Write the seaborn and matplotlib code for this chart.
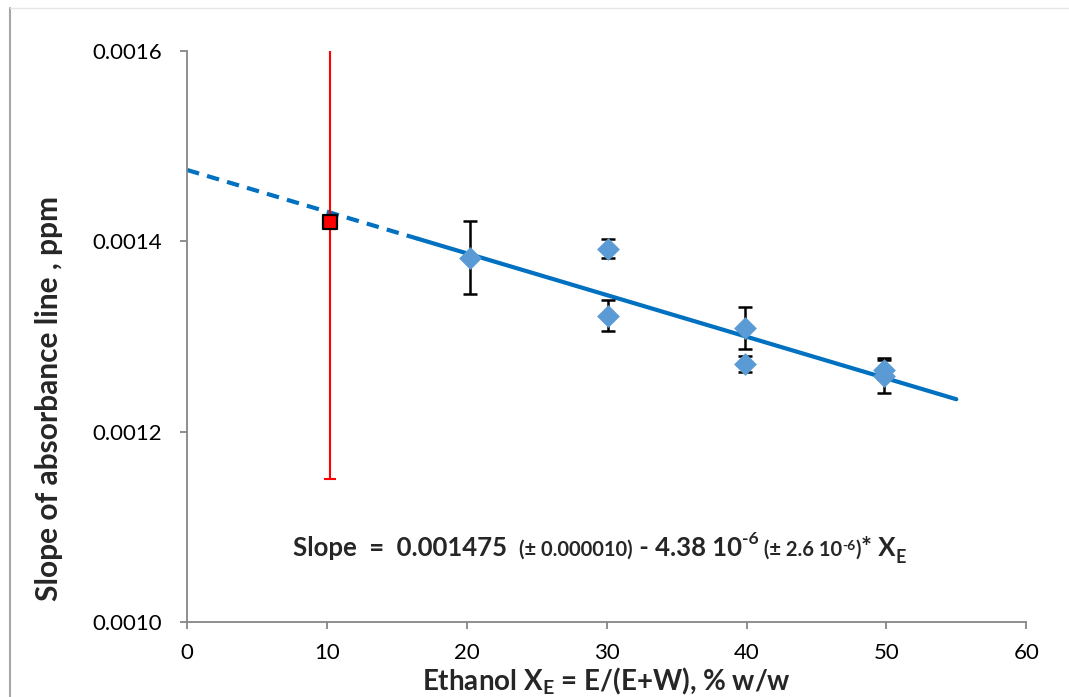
import matplotlib
matplotlib.use("Agg")
import matplotlib.pyplot as plt
from matplotlib.lines import Line2D
import numpy as np
import pandas as pd
import seaborn as sns

# ---- data ----
x_main = [20.2, 30.1, 30.1, 39.9, 39.9, 49.8, 49.8]
y_main = [0.001383, 0.001392, 0.001322, 0.001309, 0.001271, 0.001265, 0.001259]
err_main = [0.000038, 0.000010, 0.000016, 0.000022, 0.000008, 0.000010, 0.000018]

x_red = [10.2]
y_red = [0.001420]
err_red = [0.000270]

intercept = 0.001475
slope = -4.38e-6
fit_dash_x = [0.0, 16.5]
fit_solid_x = [16.5, 55.0]

x_ticks = [0, 10, 20, 30, 40, 50, 60]
y_ticks = [0.0010, 0.0012, 0.0014, 0.0016]
y_tick_labels = ["0.0010", "0.0012", "0.0014", "0.0016"]

sns.set_theme(style="white")
FONT = "Lato"
plt.rcParams["font.family"] = [FONT, "DejaVu Sans"]
plt.rcParams["mathtext.fontset"] = "custom"
plt.rcParams["mathtext.rm"] = FONT
plt.rcParams["mathtext.bf"] = FONT + ":bold"

fig = plt.figure(figsize=(10.69, 6.97), dpi=100)
ax = fig.add_axes([0.175, 0.1076, 0.785, 0.8192])

line_col = "#0070C0"
df_d = pd.DataFrame({"x": fit_dash_x, "y": [intercept + slope * v for v in fit_dash_x]})
df_s = pd.DataFrame({"x": fit_solid_x, "y": [intercept + slope * v for v in fit_solid_x]})
sns.lineplot(data=df_d, x="x", y="y", ax=ax, color=line_col, lw=3, ls=(0, (3, 2)), zorder=2)
sns.lineplot(data=df_s, x="x", y="y", ax=ax, color=line_col, lw=3, zorder=2)

ax.errorbar(x_main, y_main, yerr=err_main, fmt="none", ecolor="black",
            elinewidth=1.8, capsize=5, capthick=1.8, zorder=3)
ax.errorbar(x_red, y_red, yerr=err_red, fmt="none", ecolor="#FF0000",
            elinewidth=1.5, capsize=4.5, capthick=1.5, zorder=3)

sns.scatterplot(x=x_main, y=y_main, ax=ax, marker="D", s=135, color="#5B9BD5",
                edgecolor="#5B9BD5", linewidth=0, zorder=4)
sns.scatterplot(x=x_red, y=y_red, ax=ax, marker="s", s=110, color="#FF0000",
                edgecolor="black", linewidth=1.6, zorder=5)

ax.set_xlim(0, 60)
ax.set_ylim(0.0010, 0.0016)
ax.set_xticks(x_ticks)
ax.set_xticklabels([str(v) for v in x_ticks])
ax.set_yticks(y_ticks)
ax.set_yticklabels(y_tick_labels)

for s in ["top", "right"]:
    ax.spines[s].set_visible(False)
for s in ["left", "bottom"]:
    ax.spines[s].set_color("#868686")
    ax.spines[s].set_linewidth(1.3)
ax.tick_params(axis="both", which="major", direction="out", length=5, width=1.3,
               color="#868686", labelsize=16, labelcolor="black",
               left=True, bottom=True)
ax.tick_params(axis="y", pad=13)
ax.tick_params(axis="x", pad=10)

ax.set_ylabel("Slope of absorbance line , ppm", fontsize=21.5, fontweight="bold")
ax.yaxis.set_label_coords(-0.148, 0.392)
ax.set_xlabel(r"Ethanol X$_\mathbf{E}$ = E/(E+W), % w/w", fontsize=20, fontweight="bold")
ax.xaxis.set_label_coords(0.5, -0.076)

# equation annotation built from chained text pieces
big, small, sup, tiny, sub = 18.5, 14.5, 12.5, 10, 13
t = ax.text(0.126, 0.1156, "Slope  =  0.001475  ", transform=ax.transAxes,
            fontsize=big, fontweight="bold", ha="left", va="baseline")
pieces = [
    ("(± 0.000010)", small, 0),
    (" - 4.38 10", big, 0),
    ("-6", sup, 9),
    (" (± 2.6 10", small, 0),
    ("-6", tiny, 6),
    (")", small, 0),
    ("* X", big, 0),
    ("E", sub, -4),
]
prev = t
base_prev = 0
for txt, fs, dy in pieces:
    prev = ax.annotate(txt, xy=(1, 0), xycoords=prev, xytext=(0, dy - base_prev),
                       textcoords="offset points", fontsize=fs, fontweight="bold",
                       ha="left", va="bottom")
    base_prev = dy

# chart-area border like the original
fig.add_artist(Line2D([0.0095, 0.0095], [0.0, 0.989], transform=fig.transFigure,
                      color="#A6A6A6", lw=1.5))
fig.add_artist(Line2D([0.0095, 1.0], [0.989, 0.989], transform=fig.transFigure,
                      color="#E6E6E6", lw=1.0))

fig.savefig("out.png", dpi=100)
